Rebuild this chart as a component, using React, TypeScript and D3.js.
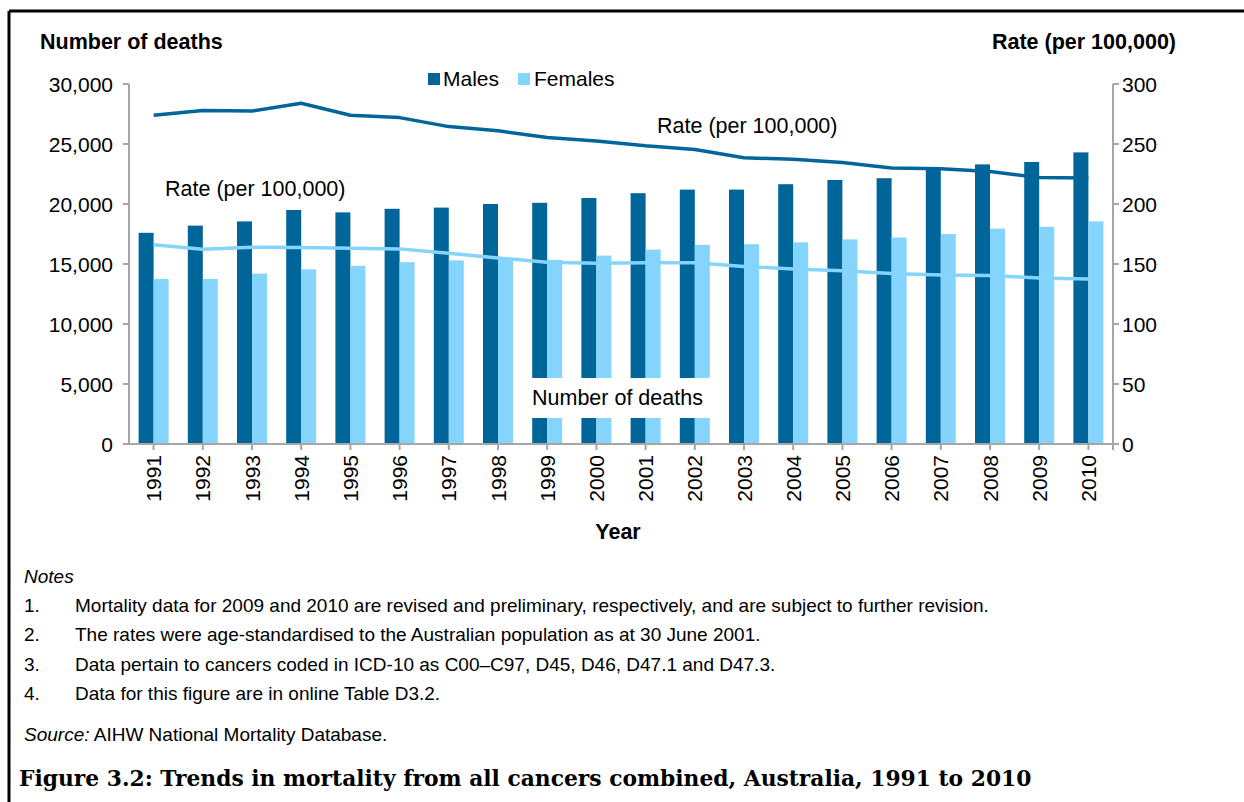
import React from "react";
import * as d3 from "d3";

const years = ["1991","1992","1993","1994","1995","1996","1997","1998","1999","2000","2001","2002","2003","2004","2005","2006","2007","2008","2009","2010"];
const maleDeaths = [17600,18200,18550,19500,19300,19600,19700,20000,20100,20500,20900,21200,21200,21650,22000,22150,22850,23300,23500,24300];
const femaleDeaths = [13750,13750,14200,14550,14850,15150,15300,15450,15350,15700,16200,16600,16650,16800,17050,17200,17500,17950,18100,18550];
const maleRate = [274,278,277.5,284,274,272,264.5,261,255.5,252.5,248.5,245.5,238.5,237.3,234.5,230,229.4,227,222,221.7];
const femaleRate = [166,162.3,164,163.7,163.1,162.6,159,155,151.5,150.6,151.1,151.1,148,145.8,144.4,142,140.8,140.5,138.3,137.4];
const leftTicks = [0,5000,10000,15000,20000,25000,30000];
const rightTicks = [0,50,100,150,200,250,300];
const notes = [
  "Mortality data for 2009 and 2010 are revised and preliminary, respectively, and are subject to further revision.",
  "The rates were age-standardised to the Australian population as at 30 June 2001.",
  "Data pertain to cancers coded in ICD-10 as C00\u2013C97, D45, D46, D47.1 and D47.3.",
  "Data for this figure are in online Table D3.2.",
];

const MALE = "#00669a";
const FEMALE = "#85d4fd";
const AXIS = "#a6a6a6";
const SANS = "'Liberation Sans', Arial, sans-serif";

export default function App() {
  const W = 1244, H = 802;
  const x0 = 129, x1 = 1113, yTop = 84, yBot = 444;
  const x = d3.scaleBand().domain(years).range([x0, x1]).paddingInner(0).paddingOuter(0);
  const yL = d3.scaleLinear().domain([0, 30000]).range([yBot, yTop]);
  const yR = d3.scaleLinear().domain([0, 300]).range([yBot, yTop]);
  const cx = (y: string) => (x(y) as number) + x.bandwidth() / 2;
  const bw = 15;
  const fmt = d3.format(",");
  const lineM = d3.line<number>().x((_, i) => cx(years[i])).y((d) => yR(d));
  const lineF = d3.line<number>().x((_, i) => cx(years[i])).y((d) => yR(d));

  return (
    <svg width={W} height={H} style={{ position: "absolute", left: 0, top: 0, background: "#fff" }} fontFamily={SANS}>
      <rect x={0} y={0} width={W} height={H} fill="#fff" />
      {/* frame */}
      <line x1={9} y1={11} x2={W} y2={11} stroke="#000" strokeWidth={3} />
      <line x1={9} y1={11} x2={9} y2={H} stroke="#000" strokeWidth={3} />

      {/* axis titles */}
      <text x={40} y={49} fontSize={21.5} fontWeight="bold" fill="#000">Number of deaths</text>
      <text x={1176} y={49} fontSize={21.5} fontWeight="bold" fill="#000" textAnchor="end">Rate (per 100,000)</text>

      {/* legend */}
      <rect x={428} y={73} width={12} height={12} fill={MALE} />
      <text x={443} y={86} fontSize={21}>Males</text>
      <rect x={518} y={73} width={12} height={12} fill={FEMALE} />
      <text x={534} y={86} fontSize={21}>Females</text>

      {/* bars */}
      {years.map((yr, i) => (
        <g key={yr}>
          <rect x={cx(yr) - bw} y={yL(maleDeaths[i])} width={bw} height={yBot - yL(maleDeaths[i])} fill={MALE} />
          <rect x={cx(yr)} y={yL(femaleDeaths[i])} width={bw} height={yBot - yL(femaleDeaths[i])} fill={FEMALE} />
        </g>
      ))}

      {/* rate lines */}
      <path d={lineM(maleRate) || ""} fill="none" stroke={MALE} strokeWidth={3.5} strokeLinejoin="round" />
      <path d={lineF(femaleRate) || ""} fill="none" stroke={FEMALE} strokeWidth={3.5} strokeLinejoin="round" />

      {/* annotations */}
      <text x={165} y={196} fontSize={21.5}>Rate (per 100,000)</text>
      <text x={657} y={133} fontSize={21.5}>Rate (per 100,000)</text>
      <rect x={530} y={378} width={181} height={40} fill="#fff" />
      <text x={532} y={405} fontSize={21.5}>Number of deaths</text>

      {/* left axis */}
      <line x1={x0} y1={yTop} x2={x0} y2={yBot} stroke={AXIS} strokeWidth={2} />
      {leftTicks.map((t) => (
        <g key={"l" + t}>
          <line x1={x0 - 6} x2={x0} y1={yL(t)} y2={yL(t)} stroke={AXIS} strokeWidth={2} />
          <text x={113} y={yL(t)} fontSize={21} textAnchor="end" dominantBaseline="central">{fmt(t)}</text>
        </g>
      ))}
      {/* right axis */}
      <line x1={x1} y1={yTop} x2={x1} y2={yBot} stroke={AXIS} strokeWidth={2} />
      {rightTicks.map((t) => (
        <g key={"r" + t}>
          <line x1={x1} x2={x1 + 6} y1={yR(t)} y2={yR(t)} stroke={AXIS} strokeWidth={2} />
          <text x={1122} y={yR(t)} fontSize={21} dominantBaseline="central">{t}</text>
        </g>
      ))}
      {/* x axis */}
      <line x1={x0 - 6} x2={x1 + 6} y1={yBot} y2={yBot} stroke={AXIS} strokeWidth={2} />
      {years.map((yr) => (
        <line key={"t" + yr} x1={cx(yr)} x2={cx(yr)} y1={yBot} y2={yBot + 6} stroke={AXIS} strokeWidth={2} />
      ))}
      <line x1={x1} x2={x1} y1={yBot} y2={yBot + 6} stroke={AXIS} strokeWidth={2} />
      {years.map((yr) => (
        <text key={"x" + yr} transform={`translate(${cx(yr)},455) rotate(-90)`} fontSize={21} textAnchor="end" dominantBaseline="central">{yr}</text>
      ))}
      <text x={618} y={539} fontSize={21.5} fontWeight="bold" textAnchor="middle">Year</text>

      {/* notes */}
      <text x={24} y={583} fontSize={19} fontStyle="italic">Notes</text>
      {notes.map((n, i) => (
        <g key={"n" + i}>
          <text x={24} y={612 + i * 29.3} fontSize={19}>{i + 1}.</text>
          <text x={75} y={612 + i * 29.3} fontSize={19}>{n}</text>
        </g>
      ))}
      <text x={24} y={741} fontSize={19}><tspan fontStyle="italic">Source:</tspan> AIHW National Mortality Database.</text>
      <text x={19} y={786} fontSize={21.8} fontWeight="bold" fontFamily="'DejaVu Serif', 'Liberation Serif', serif">Figure 3.2: Trends in mortality from all cancers combined, Australia, 1991 to 2010</text>
    </svg>
  );
}
